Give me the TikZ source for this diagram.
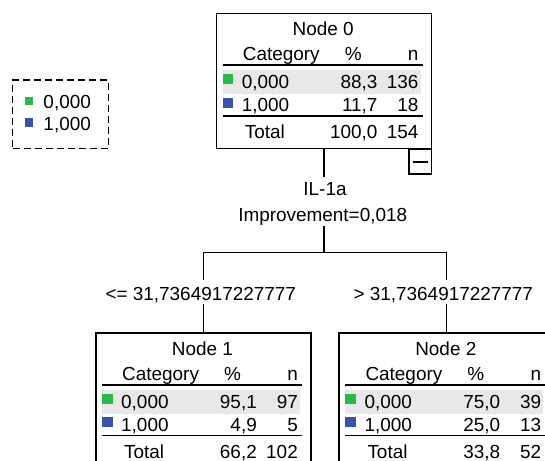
\documentclass[tikz,border=0pt]{standalone}
\usepackage{fontspec}
\setmainfont{Liberation Sans}
\usetikzlibrary{calc}
\definecolor{catgreen}{RGB}{44,184,72}
\definecolor{catblue}{RGB}{58,82,172}
\definecolor{rowgray}{RGB}{232,232,232}
\tikzset{
  txt/.style={inner sep=0pt, font=\fontsize{19}{21}\selectfont},
  boxframe/.style={draw, line width=1.5bp, rectangle, minimum width=215bp, minimum height=135bp, inner sep=0pt, anchor=north west},
  rulel/.style={line width=1.5bp},
  conn/.style={line width=1.5bp},
  legendbox/.style={draw, line width=1.3bp, dash pattern=on 7bp off 4bp, rectangle, minimum width=95.6bp, minimum height=68.3bp, inner sep=0pt},
  minusbox/.style={draw, line width=1.3bp, rectangle, minimum width=22.7bp, minimum height=24bp, inner sep=0pt, anchor=north east},
}
% #1 name, #2 number, #3 p1, #4 n1, #5 p2, #6 n2, #7 ptot, #8 ntot
\newcommand\treenodebox[8]{%
  \fill[rowgray] (7,57.3) rectangle (205,81.6);
  \node[boxframe] (#1) at (0,0) {};
  \fill[catgreen] (7,61.5) rectangle (17.5,71.5);
  \fill[catblue] (7,85) rectangle (17.5,95);
  \draw[rulel] (7,52.5) -- (207,52.5);
  \draw[rulel] (7,103.3) -- (207,103.3);
  \node[txt, anchor=base] (#1-title) at (107.5,23.1) {Node #2};
  \node[txt, anchor=base west] (#1-cat) at (27,47.8) {Category};
  \node[txt, anchor=base] (#1-pct) at (137.5,47.8) {\%};
  \node[txt, anchor=base east] (#1-n) at (203,47.8) {n};
  \node[txt, anchor=base west] (#1-c1) at (26,75.8) {0,000};
  \node[txt, anchor=base east] (#1-p1) at (162,75.8) {#3};
  \node[txt, anchor=base east] (#1-n1) at (203,75.8) {#4};
  \node[txt, anchor=base west] (#1-c2) at (26,98.8) {1,000};
  \node[txt, anchor=base east] (#1-p2) at (162,98.8) {#5};
  \node[txt, anchor=base east] (#1-n2) at (203,98.8) {#6};
  \node[txt, anchor=base west] (#1-tot) at (29,126) {Total};
  \node[txt, anchor=base east] (#1-pt) at (162,126) {#7};
  \node[txt, anchor=base east] (#1-nt) at (203,126) {#8};
}
\begin{document}
\begin{tikzpicture}[x=1bp, y=-1bp]
  \useasboundingbox (0,0) rectangle (545,461);
  \clip (0,0) rectangle (545,461);
  \fill[white] (0,0) rectangle (545,461);

  % legend
  \node[legendbox] (legend) at (60.5,114.2) {};
  \fill[catgreen] (25,96.7) rectangle (33.3,105);
  \fill[catblue] (25,118.3) rectangle (33.3,126.7);
  \node[txt, anchor=base west] (leg0) at (43.3,108.5) {0,000};
  \node[txt, anchor=base west] (leg1) at (43.3,130.1) {1,000};

  % tree nodes
  \begin{scope}[shift={(215.7,12.7)}]
    \treenodebox{n0}{0}{88,3}{136}{11,7}{18}{100,0}{154}
  \end{scope}
  \begin{scope}[shift={(95,332.3)}]
    \treenodebox{n1}{1}{95,1}{97}{4,9}{5}{66,2}{102}
  \end{scope}
  \begin{scope}[shift={(338.3,332.3)}]
    \treenodebox{n2}{2}{75,0}{39}{25,0}{13}{33,8}{52}
  \end{scope}

  % collapse box
  \node[minusbox] (n0-minus) at (n0.south east) {};
  \draw[line width=1.5bp] ([xshift=-7.5bp]n0-minus.center) -- ([xshift=7.5bp]n0-minus.center);

  % split labels
  \node[txt, anchor=base] (il) at (325,195.1) {IL-1a};
  \node[txt, anchor=base] (imp) at (322.7,221.8) {Improvement=0,018};
  \node[txt, anchor=base] (lbl1) at (200.8,300.1) {<= 31,7364917227777};
  \node[txt, anchor=base] (lbl2) at (443.3,300.1) {> 31,7364917227777};

  % connectors
  \coordinate (splity) at (0,252.7);
  \coordinate (c0) at ($(n0.south |- il.north)+(0,-4.8)$);
  \coordinate (split) at (n0.south |- splity);
  \coordinate (b1top) at ($(n1.north |- lbl1.north)+(0,-6.5)$);
  \coordinate (b2top) at ($(n2.north |- lbl2.north)+(0,-6.5)$);
  \coordinate (b1bot) at ($(n1.north |- lbl1.south)+(0,1)$);
  \coordinate (b2bot) at ($(n2.north |- lbl2.south)+(0,1)$);
  \draw[conn] (n0.south) -- (c0);
  \draw[conn] (n0.south |- imp.south) -- (split);
  \draw[conn] (b1top) |- (split) -| (b2top);
  \draw[conn] (b1bot) -- (n1.north);
  \draw[conn] (b2bot) -- (n2.north);
\end{tikzpicture}
\end{document}
